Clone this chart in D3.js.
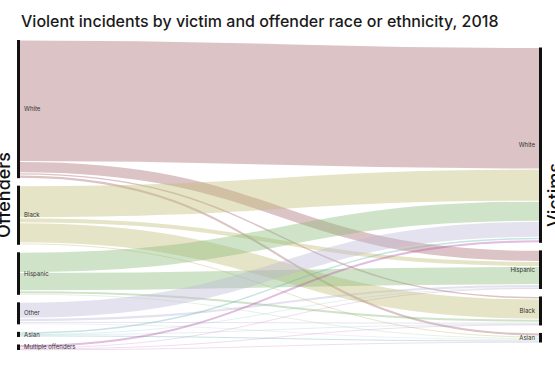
<!DOCTYPE html>
<html>
<head>
<meta charset="utf-8">
<script src="https://cdn.jsdelivr.net/npm/d3@7"></script>
<style>
  body { margin: 0; background: #fff; }
  svg { display: block; font-family: Inter, "Open Sans", sans-serif; }
</style>
</head>
<body>
<svg width="555" height="370"></svg>
<script>
// nodes, sorted by size like the original
var offenders = ["White", "Black", "Hispanic", "Other", "Asian", "Multiple offenders"];
var victims = ["White", "Hispanic", "Black", "Asian"];

// violent incidents (thousands), one array per offender group,
// order of values follows the victims array
var fromWhite    = [2200, 200, 45, 55];
var fromBlack    = [580, 90, 365, 35];
var fromHispanic = [365, 330, 55, 20];
var fromOther    = [290, 55, 35, 18];
var fromAsian    = [45, 6, 6, 36];
var fromMultiple = [55, 18, 18, 9];

var offenderColors = ["#a8696e", "#c0bb70", "#87b978", "#bbb6d4", "#73b9b9", "#b35ab0"];

window.onload = function () {
    var svg = d3.select("svg");

    var rows = [fromWhite, fromBlack, fromHispanic, fromOther, fromAsian, fromMultiple];
    var links = [];
    rows.forEach(function (row, s) {
        row.forEach(function (v, t) {
            links.push({ source: s, target: t, value: v });
        });
    });

    var top = 40, bottom = 350, pad = 7.5;
    var leftX = 17, rightX = 539, barW = 3;

    var outTotals = rows.map(function (r) { return d3.sum(r); });
    var inTotals = victims.map(function (v, t) { return d3.sum(rows, function (r) { return r[t]; }); });
    var total = d3.sum(outTotals);

    // the tall column (6 nodes) fixes the scale
    var ky = d3.scaleLinear()
        .domain([0, total])
        .range([0, (bottom - top) - pad * (offenders.length - 1)]);

    function column(names, totals, x) {
        var span = ky(total) + pad * (names.length - 1);
        var y = top + ((bottom - top) - span) / 2;
        return names.map(function (name, i) {
            var n = { name: name, x: x, y0: y, y1: y + ky(totals[i]) };
            y = n.y1 + pad;
            return n;
        });
    }
    var leftNodes = column(offenders, outTotals, leftX);
    var rightNodes = column(victims, inTotals, rightX);

    // stack links on each node
    var outY = leftNodes.map(function (n) { return n.y0; });
    var inY = rightNodes.map(function (n) { return n.y0; });
    links.forEach(function (l) {
        l.width = ky(l.value);
        l.sy = outY[l.source] + l.width / 2;
        outY[l.source] += l.width;
    });
    // incoming links ordered by source position
    d3.range(victims.length).forEach(function (t) {
        links.filter(function (l) { return l.target === t; })
            .sort(function (a, b) { return a.source - b.source; })
            .forEach(function (l) {
                l.ty = inY[t] + l.width / 2;
                inY[t] += l.width;
            });
    });

    var link = d3.linkHorizontal();

    svg.append("g")
        .attr("fill", "none")
        .selectAll("path")
        .data(links)
        .join("path")
        .attr("d", function (d) {
            return link({ source: [leftX + barW, d.sy], target: [rightX, d.ty] });
        })
        .attr("stroke", function (d) { return offenderColors[d.source]; })
        .attr("stroke-opacity", 0.4)
        .attr("stroke-width", function (d) { return Math.max(0.5, d.width - 1); });

    // node bars
    svg.append("g")
        .selectAll("rect")
        .data(leftNodes.concat(rightNodes))
        .join("rect")
        .attr("x", function (d) { return d.x; })
        .attr("y", function (d) { return d.y0; })
        .attr("width", barW)
        .attr("height", function (d) { return Math.max(1, d.y1 - d.y0); })
        .attr("fill", "#111");

    // node labels
    svg.append("g")
        .style("font-size", "6px")
        .attr("fill", "#333")
        .selectAll("text")
        .data(leftNodes)
        .join("text")
        .attr("x", leftX + barW + 4)
        .attr("y", function (d) { return (d.y0 + d.y1) / 2; })
        .attr("dy", "0.35em")
        .text(function (d) { return d.name; });

    svg.append("g")
        .style("font-size", "6px")
        .attr("fill", "#333")
        .attr("text-anchor", "end")
        .selectAll("text")
        .data(rightNodes)
        .join("text")
        .attr("x", rightX - 4)
        .attr("y", function (d) { return (d.y0 + d.y1) / 2; })
        .attr("dy", "0.35em")
        .text(function (d) { return d.name; });

    // title and side labels
    svg.append("text")
        .attr("x", 21)
        .attr("y", 27)
        .style("font-size", "16px")
        .style("font-weight", 500)
        .attr("fill", "#1a1a1a")
        .text("Violent incidents by victim and offender race or ethnicity, 2018");

    svg.append("text")
        .attr("transform", "translate(10,195) rotate(-90)")
        .attr("text-anchor", "middle")
        .style("font-size", "18px")
        .style("font-weight", 500)
        .attr("fill", "#111")
        .text("Offenders");

    svg.append("text")
        .attr("transform", "translate(561,195) rotate(-90)")
        .attr("text-anchor", "middle")
        .style("font-size", "18px")
        .style("font-weight", 500)
        .attr("fill", "#111")
        .text("Victims");
};
</script>
</body>
</html>
